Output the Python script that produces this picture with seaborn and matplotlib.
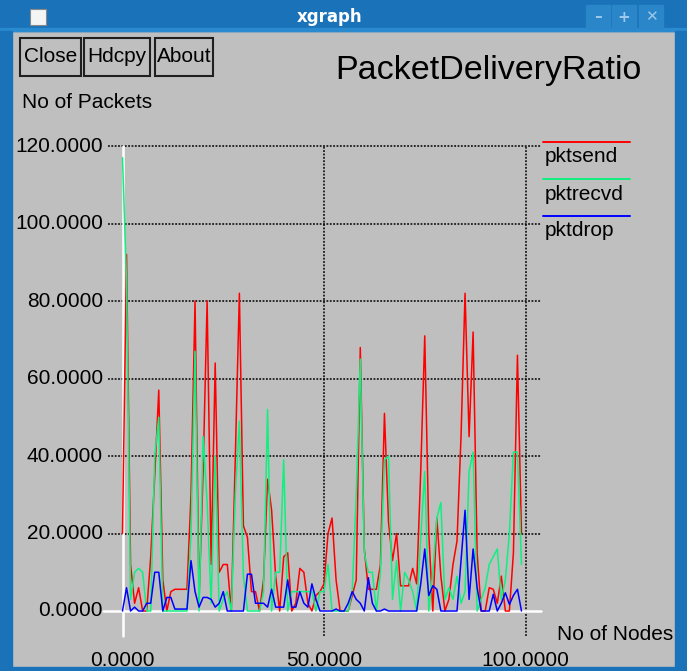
import matplotlib
matplotlib.use("Agg")
import matplotlib.pyplot as plt
from matplotlib.patches import Rectangle
from matplotlib.lines import Line2D
import pandas as pd
import seaborn as sns

# ---- data ----
nodes = list(range(100))
pktsend = [20, 92, 12, 2, 6, 0, 0, 14, 35, 57,
           8, 0, 5, 5.6, 5.6, 5.6, 5.6, 30, 80, 3,
           36, 80, 12, 64, 10, 12, 12, 0, 40, 82,
           22, 19, 5, 5, 0, 8, 34, 26, 9, 0,
           14, 15, 0, 2, 11, 10, 2, 0, 4, 5,
           7, 20, 24, 8, 0, 0, 0, 4, 8, 68,
           16, 5.6, 5.6, 5.6, 12, 51, 23, 13, 20, 6.5,
           6.5, 6.5, 11, 7, 36, 71, 20, 0, 24, 9,
           0, 3, 12, 18, 45, 82, 45, 72, 15, 0,
           0, 6, 5.6, 2, 9, 0, 0, 15, 66, 20]
pktrecvd = [117, 85, 3, 10, 11, 10, 0, 0, 40, 50,
            0, 0, 0, 0, 0, 0, 0, 20, 67, 0,
            45, 28, 2, 40, 0, 3, 5, 0, 30, 49,
            9, 0, 0, 0, 0, 5, 52, 0, 10, 10,
            39, 0, 5, 5, 5, 5, 5, 5, 0, 5,
            5, 12, 0, 0, 0, 0, 0, 5, 30, 65,
            15, 10, 10, 0, 10, 39, 40, 3, 13, 0,
            10, 8, 5, 0, 19, 36, 0, 10, 24, 28,
            3, 6, 3, 9, 2, 5, 36, 41, 0, 3,
            6, 12, 14, 16, 3, 8, 20, 41, 41, 12]
pktdrop = [0, 6, 0, 1, 0, 0, 2, 2, 10, 10,
           0, 3.5, 3.5, 0.5, 0.5, 0.5, 0.5, 13, 5, 1,
           3.5, 3.5, 3, 1, 2, 5, 0, 0, 0, 0,
           0, 9.5, 9.5, 2, 2, 2, 1, 5.6, 1, 1,
           1, 8, 1, 1, 5, 2, 1, 7, 3, 0,
           0, 0, 0, 0.5, 0, 0, 2, 5, 3, 2,
           0, 8.6, 2, 0, 0, 0.5, 0, 0, 0, 0,
           0, 0, 0, 0, 7, 16, 4, 6.5, 5.6, 0,
           0, 0, 0, 0, 13, 26, 3, 16, 6, 0,
           0, 0, 4.3, 0, 2, 4.7, 1.7, 4, 5.6, 0]
series_names = ["pktsend", "pktrecvd", "pktdrop"]
series_colors = ["#ff0000", "#10f080", "#0000ff"]
y_ticks = [0, 20, 40, 60, 80, 100, 120]
x_ticks = [0, 50, 100]

W, H = 687, 671
GRAY = "#bfbfbf"
BLUE = "#1a72b8"
FS = 15


def fx(px):
    return px / W


def fy(py):
    return 1 - py / H


sns.set_style("white")
plt.rcParams["font.family"] = ["Liberation Sans", "DejaVu Sans"]
plt.rcParams["text.color"] = "black"

fig = plt.figure(figsize=(W / 100, H / 100), dpi=100)
fig.patch.set_facecolor(GRAY)

# window frame
fig.patches.append(Rectangle((0, fy(31)), 1, 31 / H, transform=fig.transFigure, color=BLUE, zorder=0))
fig.patches.append(Rectangle((0, fy(31)), 1, 3 / H, transform=fig.transFigure, color="#2a8ad0", zorder=0))
fig.patches.append(Rectangle((0, 0), fx(12), fy(31), transform=fig.transFigure, color=BLUE, zorder=0))
fig.patches.append(Rectangle((fx(675), 0), 12 / W, fy(31), transform=fig.transFigure, color=BLUE, zorder=0))
fig.patches.append(Rectangle((0, 0), 1, 4 / H, transform=fig.transFigure, color=BLUE, zorder=0))
fig.patches.append(Rectangle((fx(30), fy(25)), 16 / W, 16 / H, transform=fig.transFigure,
                             facecolor="#f4f4f4", edgecolor="#888888", lw=0.8, zorder=1))
fig.text(fx(330), fy(17), "xgraph", color="white", fontsize=12, fontweight="bold",
         family="DejaVu Sans", ha="center", va="center")
for x0, glyph in [(586, "\u2013"), (612, "+"), (639, "\u2715")]:
    fig.patches.append(Rectangle((fx(x0), fy(29)), 24 / W, 24 / H, transform=fig.transFigure,
                                 color="#2a86c8", zorder=1))
    fig.text(fx(x0 + 12), fy(17), glyph, color="#9cc8ea", fontsize=11, fontweight="bold",
             family="DejaVu Sans", ha="center", va="center")

# buttons
for x0, x1, label in [(20, 81, "Close"), (84, 150, "Hdcpy"), (155, 213, "About")]:
    fig.patches.append(Rectangle((fx(x0), fy(76)), (x1 - x0) / W, 38 / H, transform=fig.transFigure,
                                 facecolor="none", edgecolor="#202020", lw=1.5, zorder=1))
    fig.text(fx((x0 + x1) / 2), fy(57), label, fontsize=FS, ha="center", va="center")

fig.text(fx(642), fy(71), "PacketDeliveryRatio", fontsize=24.5, ha="right", va="center")
fig.text(fx(22), fy(103), "No of Packets", fontsize=FS, ha="left", va="center")
fig.text(fx(673), fy(635), "No of Nodes", fontsize=FS, ha="right", va="center")

# plotting area: x 0..100 -> px 122.5..526, y 0..120 -> py 611..146
ax = fig.add_axes([fx(108), fy(636), (541 - 108) / W, (636 - 146) / H])
x_lo, x_hi = (108 - 122.5) / 4.03, (541 - 122.5) / 4.03
y_lo, y_hi = (611 - 636) / 3.875, 120.0
ax.set_xlim(x_lo, x_hi)
ax.set_ylim(y_lo, y_hi)
ax.axis("off")

dots = (0, (1.2, 1.0))
for yv in y_ticks[1:]:
    ax.plot([x_lo, x_hi], [yv, yv], color="black", lw=1.1, ls=dots, clip_on=False, zorder=1)
for xv in x_ticks[1:]:
    ax.plot([xv, xv], [y_lo, y_hi], color="black", lw=1.1, ls=dots, clip_on=False, zorder=1)
ax.plot([(103 - 122.5) / 4.03, x_hi], [0, 0], color="white", lw=1.8, clip_on=False, zorder=1)
ax.plot([0, 0], [y_lo, y_hi], color="white", lw=1.8, clip_on=False, zorder=1)

df = pd.DataFrame({
    "node": nodes * 3,
    "packets": pktsend + pktrecvd + pktdrop,
    "series": [s for s in series_names for _ in nodes],
})
sns.lineplot(data=df, x="node", y="packets", hue="series", hue_order=series_names,
             palette=dict(zip(series_names, series_colors)), estimator=None,
             linewidth=1.1, legend=False, ax=ax, zorder=2)

for yv in y_ticks:
    ax.text((103 - 122.5) / 4.03, yv, f"{yv:.4f}", fontsize=FS, ha="right", va="center", clip_on=False)
for xv in x_ticks:
    ax.text(xv, (611 - 660) / 3.875, f"{xv:.4f}", fontsize=FS, ha="center", va="center", clip_on=False)

# xgraph style legend
for i, (name, col) in enumerate(zip(series_names, series_colors)):
    ly = 142 + 37 * i
    fig.add_artist(Line2D([fx(543), fx(630)], [fy(ly), fy(ly)], color=col, lw=1.4))
    fig.text(fx(545), fy(ly + 15), name, fontsize=FS, ha="left", va="center")

fig.savefig("out.png", dpi=100, facecolor=fig.get_facecolor())
